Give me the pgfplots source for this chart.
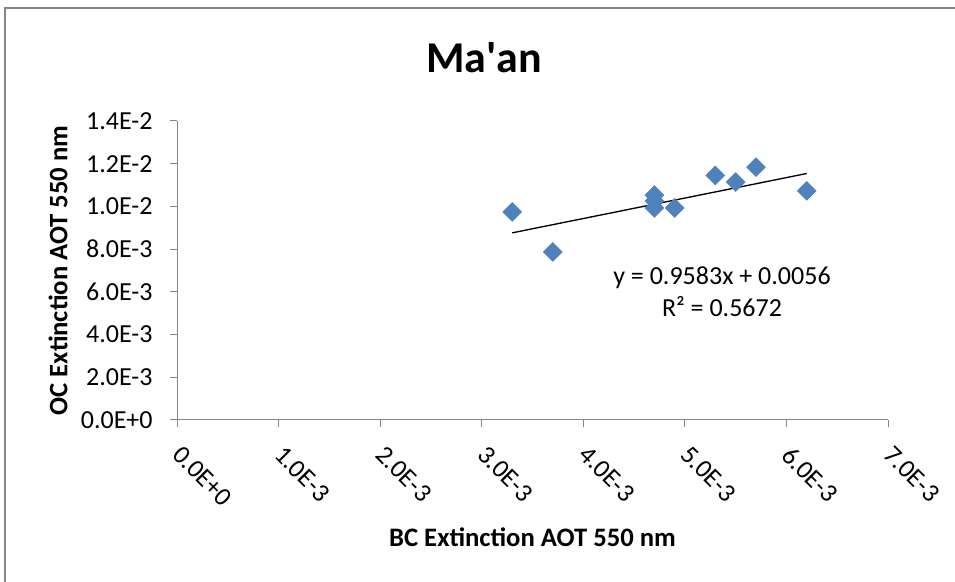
\documentclass[border=0pt]{standalone}
\usepackage{fontspec}
\setmainfont{Carlito}
\usepackage{pgfplots}
\pgfplotsset{compat=1.18}
\definecolor{axisgray}{RGB}{134,134,134}
\definecolor{framegray}{RGB}{134,134,134}
\definecolor{markblue}{RGB}{79,129,189}
\newcommand{\tickfont}{\fontsize{19.5}{23}\selectfont}
\newcommand{\labelfont}{\fontsize{20}{24}\selectfont\bfseries}

\begin{document}
\begin{tikzpicture}
\useasboundingbox (0,0) rectangle (716.25pt,435.75pt);
% chart frame
\draw[framegray, line width=1.5pt] (3.75pt,-2pt) -- (3.75pt,429.4pt) -- (720pt,429.4pt);

\begin{axis}[
  at={(132.75pt,120.75pt)}, anchor=south west,
  scale only axis, width=533.25pt, height=224.25pt,
  xmin=0, xmax=0.007, ymin=0, ymax=0.014,
  axis x line=bottom, axis y line=left,
  axis line style={-, axisgray, line width=0.75pt},
  tick style={axisgray, line width=0.75pt},
  tick align=outside, major tick length=5.25pt,
  scaled ticks=false,
  xtick={0,0.001,0.002,0.003,0.004,0.005,0.006,0.007},
  xticklabels={0.0E+0,1.0E-3,2.0E-3,3.0E-3,4.0E-3,5.0E-3,6.0E-3,7.0E-3},
  ytick={0,0.002,0.004,0.006,0.008,0.010,0.012,0.014},
  yticklabels={0.0E+0,2.0E-3,4.0E-3,6.0E-3,8.0E-3,1.0E-2,1.2E-2,1.4E-2},
  ticklabel style={font=\tickfont, text=black},
  xticklabel style={xshift=4.8pt, yshift=-13pt, rotate=-45, anchor=north west, inner sep=0pt},
  yticklabel style={anchor=east, xshift=-9.5pt},
  clip=false,
]
% linear trendline y = 0.9583x + 0.0056 over the data range
\addplot[black, line width=1pt] coordinates {(0.0033,0.00876239) (0.0062,0.01154146)};
% OC vs BC extinction
\addplot[only marks, mark=square*, mark size=5pt,
  mark options={rotate=45, fill=markblue, draw=markblue}] coordinates {
  (0.0033,0.00974)
  (0.0037,0.00787)
  (0.0047,0.01053)
  (0.0047,0.01025)
  (0.0047,0.00993)
  (0.0049,0.00993)
  (0.0053,0.01145)
  (0.0055,0.01114)
  (0.0057,0.01184)
  (0.0062,0.01073)
};
\end{axis}

% titles and trendline label
\node[anchor=base, font=\fontsize{33}{40}\selectfont\bfseries] at (363pt,381pt) {Ma\textquotesingle an};
\node[anchor=base, font=\labelfont] at (399.4pt,25.7pt) {BC Extinction AOT 550 nm};
\node[anchor=base, rotate=90, font=\labelfont] at (50.5pt,232.9pt) {OC Extinction AOT 550 nm};
\node[align=center, font=\fontsize{19.5}{24}\selectfont] at (541.5pt,216.75pt)
  {y = 0.9583x + 0.0056\\R² = 0.5672};
\end{tikzpicture}
\end{document}
